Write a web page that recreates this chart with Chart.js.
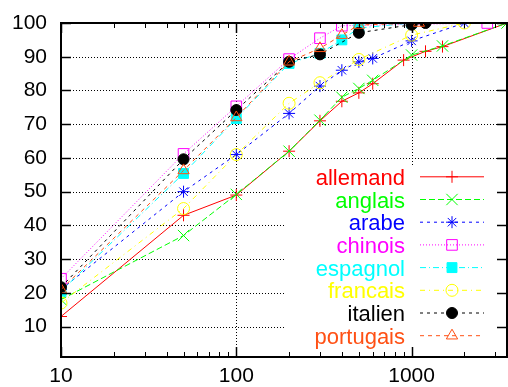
<!DOCTYPE html>
<html>
<head>
<meta charset="utf-8">
<script src="https://cdn.jsdelivr.net/npm/chart.js@4.4.0/dist/chart.umd.min.js"></script>
<style>
  html, body { margin: 0; padding: 0; background: #fff; }
</style>
</head>
<body>
<canvas id="chart" width="508" height="387"></canvas>
<script>
// tick values
const xTicks = [10, 100, 1000];
const xMinorTicks = [20, 30, 40, 50, 60, 70, 80, 90, 200, 300, 400, 500, 600, 700, 800, 900, 2000, 3000];
const yTicks = [10, 20, 30, 40, 50, 60, 70, 80, 90, 100];

// series (x = taille, y = pourcentage)
const allemandX = [10, 50, 100, 200, 300, 400, 500, 600, 900, 1200, 1500, 3500];
const allemandY = [13, 43, 49, 62, 71, 76.8, 79.3, 82, 89, 91.6, 93, 100];
const anglaisX = [10, 50, 100, 200, 300, 400, 500, 600, 1000, 1500, 3500];
const anglaisY = [18, 37, 49.2, 62, 71.2, 78, 80.6, 83, 90.5, 93.2, 100];
const arabeX = [10, 50, 100, 200, 300, 400, 500, 600, 1000, 2000];
const arabeY = [21, 50, 61, 73.2, 81.3, 86, 88.5, 89.5, 94.7, 100];
const chinoisX = [10, 50, 100, 200, 300, 400, 2700];
const chinoisY = [24.2, 61.2, 75.3, 89.3, 95.5, 99.2, 100];
const espagnolX = [10, 50, 100, 200, 300, 400, 500, 1000];
const espagnolY = [20.5, 55.4, 71.7, 88, 91, 95, 98.5, 100];
const francaisX = [10, 50, 100, 200, 300, 500, 1000, 2000];
const francaisY = [17, 45, 61, 76.2, 82.3, 89.2, 96.4, 100];
const italienX = [10, 50, 100, 200, 300, 500, 1000, 1200];
const italienY = [21.7, 59.6, 74.2, 88.5, 90.7, 97.1, 99.5, 100];
const portugaisX = [10, 50, 100, 200, 300, 400, 500, 1100];
const portugaisY = [21, 56.3, 72, 88.5, 92.5, 96.4, 99.4, 100];

const FONT = '"Liberation Sans", Arial, sans-serif';

function pts(xs, ys) {
    return xs.map((x, i) => ({ x: x, y: ys[i] }));
}

function serie(label, xs, ys, color, dash, style, radius, fill) {
    return {
        label: label,
        data: pts(xs, ys),
        borderColor: color,
        borderWidth: 1,
        borderDash: dash,
        pointStyle: style,
        pointRadius: radius,
        pointBorderWidth: 1,
        pointBorderColor: color,
        pointBackgroundColor: fill ? color : "rgba(0,0,0,0)",
        tension: 0
    };
}

const datasets = [
    serie("allemand", allemandX, allemandY, "#ff0000", [], "cross", 6, false),
    serie("anglais", anglaisX, anglaisY, "#00ff00", [6, 3], "crossRot", 8, false),
    serie("arabe", arabeX, arabeY, "#0000ff", [3, 4], "star", 6, false),
    serie("chinois", chinoisX, chinoisY, "#ff00ff", [1, 2], "rect", 7.5, false),
    serie("espagnol", espagnolX, espagnolY, "#00ffff", [6, 3, 1, 3], "rect", 7, true),
    serie("francais", francaisX, francaisY, "#ffff00", [5, 4, 1, 4], "circle", 6, false),
    serie("italien", italienX, italienY, "#000000", [3, 4], "circle", 5.5, true),
    serie("portugais", portugaisX, portugaisY, "#ff5014", [4, 4], "triangle", 6.5, false)
];
datasets.forEach((d, i) => { d.order = datasets.length - i; });

function noPad(s) {
    s.paddingLeft = 0;
    s.paddingRight = 0;
    s.paddingTop = 0;
    s.paddingBottom = 0;
}

// grille pointillée + cadre de légende opaque
const gridPlugin = {
    id: "gpGrid",
    beforeDatasetsDraw(chart) {
        const { ctx, chartArea: a, scales: { x, y } } = chart;
        ctx.save();
        ctx.strokeStyle = "#000";
        ctx.lineWidth = 1;
        ctx.setLineDash([1, 2]);
        xTicks.forEach(v => {
            const px = Math.round(x.getPixelForValue(v)) + 0.5;
            if (px <= a.left + 2) return;
            ctx.beginPath(); ctx.moveTo(px, a.top); ctx.lineTo(px, a.bottom); ctx.stroke();
        });
        yTicks.forEach(v => {
            const py = Math.round(y.getPixelForValue(v)) + 0.5;
            if (py <= a.top + 2) return;
            ctx.beginPath(); ctx.moveTo(a.left, py); ctx.lineTo(a.right, py); ctx.stroke();
        });
        ctx.setLineDash([]);
        ctx.fillStyle = "#fff";
        ctx.fillRect(285, 165, a.right - 285, a.bottom - 165);
        ctx.restore();
    }
};

const legendPlugin = {
    id: "gpLegend",
    afterDatasetsDraw(chart) {
        const ctx = chart.ctx;
        chart.data.datasets.forEach((ds, i) => {
            const y = 176.8 + i * 22.7;
            ctx.save();
            ctx.font = "22px " + FONT;
            ctx.fillStyle = ds.borderColor;
            ctx.textAlign = "right";
            ctx.textBaseline = "alphabetic";
            ctx.fillText(ds.label, 405, y + 8);
            ctx.strokeStyle = ds.borderColor;
            ctx.lineWidth = 1;
            ctx.setLineDash(ds.borderDash);
            ctx.beginPath(); ctx.moveTo(420, y); ctx.lineTo(484, y); ctx.stroke();
            ctx.setLineDash([]);
            ctx.fillStyle = ds.pointBackgroundColor;
            Chart.helpers.drawPoint(ctx, { pointStyle: ds.pointStyle, radius: ds.pointRadius, borderWidth: 1, rotation: 0 }, 452, y);
            ctx.restore();
        });
    }
};

// cadre et graduations vers l'intérieur
const framePlugin = {
    id: "gpFrame",
    afterDraw(chart) {
        const { ctx, chartArea: a, scales: { x, y } } = chart;
        ctx.save();
        ctx.strokeStyle = "#000";
        ctx.lineWidth = 1;
        const seg = (x1, y1, x2, y2) => { ctx.beginPath(); ctx.moveTo(x1, y1); ctx.lineTo(x2, y2); ctx.stroke(); };
        xMinorTicks.forEach(v => {
            const px = Math.round(x.getPixelForValue(v)) + 0.5;
            seg(px, a.bottom, px, a.bottom - 5);
            seg(px, a.top, px, a.top + 5);
        });
        ctx.lineWidth = 1.5;
        xTicks.forEach(v => {
            const px = Math.round(x.getPixelForValue(v)) + 0.5;
            seg(px, a.bottom, px, a.bottom - 10);
            seg(px, a.top, px, a.top + 10);
        });
        yTicks.forEach(v => {
            const py = Math.round(y.getPixelForValue(v)) + 0.5;
            seg(a.left, py, a.left + 10, py);
            seg(a.right, py, a.right - 10, py);
        });
        ctx.lineWidth = 2;
        ctx.strokeRect(a.left, a.top, a.right - a.left, a.bottom - a.top);
        ctx.restore();
    }
};

const ctx = document.getElementById("chart").getContext("2d");
new Chart(ctx, {
    type: "line",
    data: { datasets: datasets },
    options: {
        responsive: false,
        animation: false,
        layout: { autoPadding: false, padding: { top: 23, right: 1, left: 0, bottom: 0 } },
        plugins: { legend: { display: false }, tooltip: { enabled: false } },
        scales: {
            x: {
                type: "logarithmic",
                min: 10,
                max: 3500,
                grid: { display: false, drawTicks: false },
                border: { display: false },
                afterBuildTicks: s => { s.ticks = xTicks.map(v => ({ value: v })); },
                afterFit: s => { s.height = 30; noPad(s); },
                ticks: {
                    color: "#000",
                    font: { family: FONT, size: 21 },
                    padding: 7,
                    autoSkip: false,
                    maxRotation: 0,
                    callback: v => String(v)
                }
            },
            y: {
                min: 1,
                max: 100,
                grid: { display: false, drawTicks: false },
                border: { display: false },
                afterBuildTicks: s => { s.ticks = yTicks.map(v => ({ value: v })); },
                afterFit: s => { s.width = 61; noPad(s); },
                ticks: {
                    color: "#000",
                    font: { family: FONT, size: 21 },
                    padding: 14,
                    callback: v => String(v)
                }
            }
        }
    },
    plugins: [gridPlugin, legendPlugin, framePlugin]
});
</script>
</body>
</html>
